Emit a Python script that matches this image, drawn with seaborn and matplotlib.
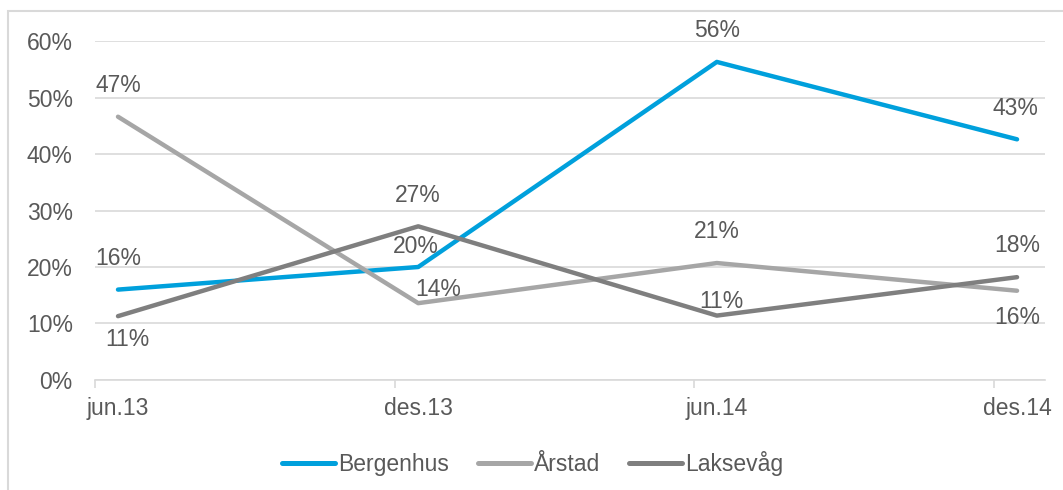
import pandas as pd
import matplotlib.pyplot as plt
import matplotlib.dates as mdates
import seaborn as sns
from matplotlib.patches import Rectangle
from matplotlib.ticker import PercentFormatter

# Data (share, 0-1)
dates = ["2013-06-15", "2013-12-15", "2014-06-15", "2014-12-15"]
tick_dates = ["2013-06-01", "2013-12-01", "2014-06-01", "2014-12-01"]
tick_labels = ["jun.13", "des.13", "jun.14", "des.14"]
series_names = ["Bergenhus", "Årstad", "Laksevåg"]
bergenhus = [0.16, 0.20, 0.563, 0.426]
arstad = [0.466, 0.136, 0.207, 0.158]
laksevag = [0.113, 0.272, 0.114, 0.182]

df = pd.DataFrame({
    "dato": pd.to_datetime(dates * 3),
    "andel": bergenhus + arstad + laksevag,
    "omrade": [n for n in series_names for _ in dates],
})

sns.set_theme(style="white")
plt.rcParams["font.family"] = ["Liberation Sans", "DejaVu Sans"]
text_color = "#595959"
grid_color = "#d9d9d9"
fs = 16.5
palette = {"Bergenhus": "#00a0dc", "Årstad": "#a6a6a6", "Laksevåg": "#7f7f7f"}

fig = plt.figure(figsize=(10.63, 4.9), dpi=100)
ax = fig.add_axes([0.0894, 0.2245, 0.8936, 0.6918])

sns.lineplot(data=df, x="dato", y="andel", hue="omrade", palette=palette,
             linewidth=3.2, ax=ax, legend=True)

ax.set_ylim(0, 0.6)
ax.set_xlim(pd.Timestamp("2013-06-01"), pd.Timestamp("2015-01-01"))
ax.yaxis.set_major_formatter(PercentFormatter(1.0, decimals=0))
ax.set_yticks([0, 0.1, 0.2, 0.3, 0.4, 0.5, 0.6])
# tick marks at month starts, labels under the data points
ax.set_xticks(pd.to_datetime(tick_dates))
ax.set_xticklabels([])
ax.set_xticks(pd.to_datetime(dates), minor=True)
ax.set_xticklabels(tick_labels, minor=True)
ax.set_xlabel("")
ax.set_ylabel("")
ax.grid(axis="y", color=grid_color, linewidth=1.2)
ax.grid(axis="x", which="both", visible=False)
ax.set_axisbelow(True)
for side in ["left", "right", "top"]:
    ax.spines[side].set_visible(False)
ax.spines["bottom"].set_color(grid_color)
ax.spines["bottom"].set_linewidth(1.2)
ax.tick_params(axis="x", which="major", length=6, width=1.2, color=grid_color,
               direction="out", bottom=True)
ax.tick_params(axis="x", which="minor", length=0, colors=text_color,
               labelsize=fs, pad=12, bottom=True)
ax.tick_params(axis="y", colors=text_color, labelsize=fs, length=0, pad=16)

# data labels, offsets in points (x, y)
offsets = {
    "Bergenhus": [(0, 22.5), (-2, 14.5), (0, 22.5), (-1, 22.5)],
    "Årstad": [(0, 22.5), (14.5, 10), (0, 22.5), (0, -19.5)],
    "Laksevåg": [(7, -16.5), (0, 22.5), (3, 10.5), (0, 22.5)],
}
values = {"Bergenhus": bergenhus, "Årstad": arstad, "Laksevåg": laksevag}
for name in series_names:
    for d, v, off in zip(pd.to_datetime(dates), values[name], offsets[name]):
        ax.annotate(f"{round(v * 100):.0f}%", (mdates.date2num(d), v), xytext=off,
                    textcoords="offset points", ha="center", va="center",
                    fontsize=fs, color=text_color)

leg = ax.legend(loc="upper center", bbox_to_anchor=(0.461, -0.148), ncol=3,
                frameon=False, fontsize=fs, handlelength=2.3,
                columnspacing=1.25, handletextpad=0.15)
for t in leg.get_texts():
    t.set_color(text_color)
for h in leg.get_lines():
    h.set_solid_capstyle("round")
    h.set_linewidth(3.6)

# chart area frame (only top and left edges are inside the image)
fig.patches.append(Rectangle((0.0075, -0.5), 2, 1.5 - 11 / 490, transform=fig.transFigure,
                             fill=False, edgecolor=grid_color, linewidth=1.5))

plt.savefig("out.png", dpi=100)
